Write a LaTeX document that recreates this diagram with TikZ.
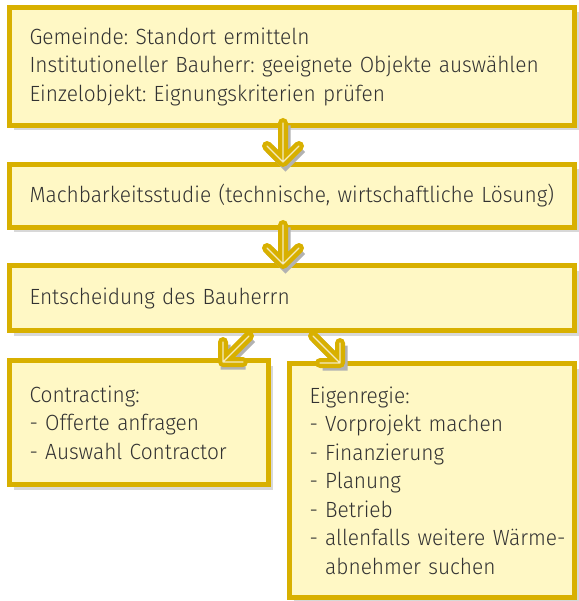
\documentclass[tikz,border=0pt]{standalone}
\usepackage{fontspec}
\setmainfont{Fira Sans Light}[FakeStretch=0.95]
\usetikzlibrary{shadows}
\definecolor{boxgold}{RGB}{216,176,0}
\definecolor{boxfill}{RGB}{255,248,197}
\definecolor{textgray}{RGB}{50,50,50}
\frenchspacing

\begin{document}
\begin{tikzpicture}[x=1pt, y=-1pt,
    every node/.style={font=\fontsize{22}{28.5}\selectfont, text=textgray},
    stepbox/.style={rectangle, draw=boxgold, fill=boxfill, line width=5pt, anchor=north west, inner xsep=20pt, inner ysep=0pt, align=left, drop shadow={shadow xshift=4pt, shadow yshift=-5pt, fill=black!30}},
    flowarrow/.style={draw=boxgold, line width=10pt, line cap=round, line join=round,
        preaction={draw=black!30, line width=10pt, transform canvas={xshift=2.5pt, yshift=-2.5pt}},
        postaction={draw=white!75!boxgold, line width=1.2pt}}
]
\useasboundingbox (0,0) rectangle (578,601);

% Boxes
\node[stepbox, text width=525pt, minimum height=118pt] (standort) at (7,5)
    {Gemeinde: Standort ermitteln\\Institutioneller Bauherr: geeignete Objekte auswählen\\Einzelobjekt: Eignungskriterien prüfen};
\node[stepbox, text width=525pt, minimum height=63pt] (studie) at (7,162)
    {Machbarkeitsstudie (technische, wirtschaftliche Lösung)};
\node[stepbox, text width=525pt, minimum height=65pt] (entscheid) at (7,263)
    {Entscheidung des Bauherrn};
\node[stepbox, text width=219pt, minimum height=124pt] (contracting) at (7,358)
    {Contracting:\\- Offerte anfragen\\- Auswahl Contractor};
\node[stepbox, text width=245pt, minimum height=234pt] (eigenregie) at (287,361)
    {Eigenregie:\\- Vorprojekt machen\\- Finanzierung\\- Planung\\- Betrieb\\\mbox{- allenfalls weitere Wärme-}\\\hphantom{- }abnehmer suchen};

% Arrows (shaft + open head)
\draw[flowarrow] ([xshift=-9pt,yshift=5pt]standort.south) -- ([xshift=-9pt]studie.north) coordinate (t1)
    ++(-16,-16) -- (t1) -- ++(16,-16);
\draw[flowarrow] ([xshift=-9pt,yshift=5pt]studie.south) -- ([xshift=-9pt,yshift=-1pt]entscheid.north) coordinate (t2)
    ++(-16,-16) -- (t2) -- ++(16,-16);
\draw[flowarrow] ([xshift=-43pt,yshift=-3pt]entscheid.south) -- ([xshift=-48pt,yshift=-4pt]contracting.north east) coordinate (t3)
    ++(0,-20) -- (t3) -- ++(20,0);
\draw[flowarrow] ([xshift=21pt,yshift=-3pt]entscheid.south) -- ([xshift=53pt,yshift=-2pt]eigenregie.north west) coordinate (t4)
    ++(0,-20) -- (t4) -- ++(-20,0);

\end{tikzpicture}
\end{document}
